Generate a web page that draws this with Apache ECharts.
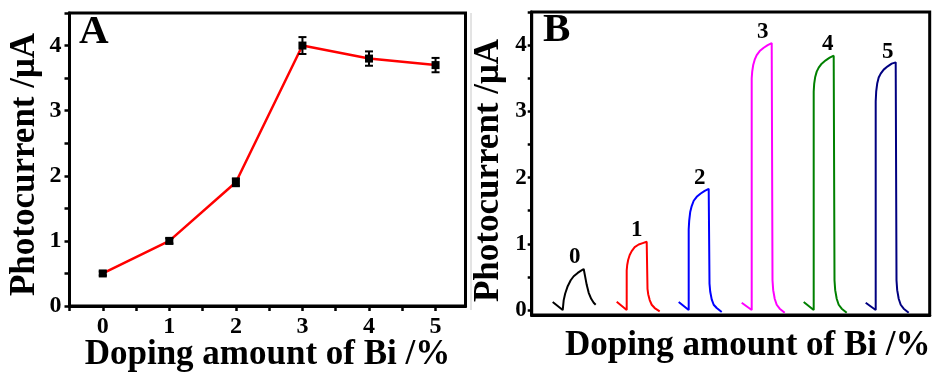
<!DOCTYPE html>
<html>
<head>
<meta charset="utf-8">
<script src="https://cdn.jsdelivr.net/npm/echarts@6/dist/echarts.min.js"></script>
<style>
html,body{margin:0;padding:0;background:#fff;}
#c{width:932px;height:374px;}
</style>
</head>
<body>
<div id="c"></div>
<script>
// ---- Panel A data ----
var dopingA = [0, 1, 2, 3, 4, 5];
var currentA = [0.5, 1.0, 1.9, 4.0, 3.8, 3.7];
var errorA = [0.03, 0.04, 0.06, 0.13, 0.11, 0.11];
var yTicksLabels = [0, 1, 2, 3, 4];
var yTicksAll = [0, 0.5, 1, 1.5, 2, 2.5, 3, 3.5, 4, 4.5];
var xTicksLabelsA = [0, 1, 2, 3, 4, 5];
var xTicksAllA = [-0.5, 0, 0.5, 1, 1.5, 2, 2.5, 3, 3.5, 4, 4.5, 5];

// ---- Panel B data (time in arbitrary units along the trace) ----
var curveNames = ['0', '1', '2', '3', '4', '5'];
var curveOffsets = [21, 85, 147, 210, 272, 334];
var relTime0 = [0, 10, 11, 12.5, 15, 18, 21, 25, 28, 30, 31, 32.5, 34, 36, 38.5, 41, 43];
var current0 = [0.12, 0, 0.15, 0.25, 0.36, 0.45, 0.51, 0.56, 0.59, 0.61, 0.62, 0.5, 0.38, 0.26, 0.17, 0.11, 0.08];
var relTimePulse = [0, 10, 10, 10.5, 11.5, 13, 15, 18, 22, 26, 30, 30.8, 31.5, 33, 35, 38, 43];
var current1 = [0.125, 0, 0.6, 0.68, 0.76, 0.83, 0.89, 0.95, 0.99, 1.01, 1.03, 0.32, 0.24, 0.15, 0.08, 0.03, -0.02];
var current2 = [0.12, 0, 1.22, 1.35, 1.48, 1.57, 1.65, 1.71, 1.76, 1.8, 1.83, 0.4, 0.28, 0.16, 0.08, 0.03, -0.03];
var current3 = [0.11, 0, 3.5, 3.6, 3.7, 3.78, 3.85, 3.91, 3.96, 4.0, 4.03, 0.45, 0.3, 0.17, 0.08, 0.02, -0.04];
var current4 = [0.12, 0, 3.3, 3.42, 3.52, 3.6, 3.66, 3.72, 3.77, 3.81, 3.84, 0.45, 0.3, 0.17, 0.08, 0.02, -0.04];
var current5 = [0.11, 0, 3.15, 3.3, 3.42, 3.51, 3.57, 3.63, 3.68, 3.72, 3.74, 0.45, 0.3, 0.17, 0.08, 0.02, -0.04];
var curveColors = ['#000000', '#ff0000', '#0000ff', '#ff00ff', '#008000', '#000080'];
var labelX = [43, 105, 168, 231, 296, 356];
var labelY = [0.8, 1.2, 1.99, 4.19, 4.02, 3.89];

var FONT = '"Liberation Serif", "Times New Roman", serif';

function pairs(times, offset, values) {
  var out = [];
  for (var i = 0; i < values.length; i++) out.push([offset + times[i], values[i]]);
  return out;
}
var curvesB = [
  pairs(relTime0, curveOffsets[0], current0),
  pairs(relTimePulse, curveOffsets[1], current1),
  pairs(relTimePulse, curveOffsets[2], current2),
  pairs(relTimePulse, curveOffsets[3], current3),
  pairs(relTimePulse, curveOffsets[4], current4),
  pairs(relTimePulse, curveOffsets[5], current5)
];

var chart = echarts.init(document.getElementById('c'), null, {renderer: 'canvas'});

var tickLabelStyle = {color: '#000', fontFamily: FONT, fontWeight: 'bold', fontSize: 24};
var titleStyle = {color: '#000', fontFamily: FONT, fontWeight: 'bold', fontSize: 35};

var seriesB = curvesB.map(function (d, i) {
  return {
    type: 'line', xAxisIndex: 1, yAxisIndex: 1, data: d,
    symbol: 'none', smooth: false,
    lineStyle: {color: curveColors[i], width: 2}
  };
});

var option = {
  animation: false,
  backgroundColor: '#fff',
  grid: [
    {left: 69.5, top: 13, width: 396, height: 293, show: true, borderColor: '#000', borderWidth: 3, containLabel: false, outerBoundsMode: 'none'},
    {left: 531.7, top: 12, width: 398, height: 303, show: true, borderColor: '#000', borderWidth: 3, containLabel: false, outerBoundsMode: 'none'}
  ],
  xAxis: [
    {
      gridIndex: 0, type: 'value', min: -0.5, max: 5.45,
      name: 'Doping amount of Bi /%', nameLocation: 'middle', nameGap: 31, nameMoveOverlap: false,
      nameTextStyle: titleStyle,
      axisLine: {show: true, onZero: false, lineStyle: {color: '#000', width: 3}},
      axisTick: {show: true, inside: false, length: 5, lineStyle: {color: '#000', width: 2.5}, customValues: xTicksAllA},
      axisLabel: Object.assign({margin: 9, customValues: xTicksLabelsA}, tickLabelStyle),
      splitLine: {show: false}
    },
    {
      gridIndex: 1, type: 'value', min: 0, max: 398,
      name: 'Doping amount of Bi /%', nameLocation: 'middle', nameGap: 13, nameMoveOverlap: false,
      nameTextStyle: Object.assign({padding: [0, 0, 0, 34]}, titleStyle),
      axisLine: {show: true, onZero: false, lineStyle: {color: '#000', width: 3}},
      axisTick: {show: false}, axisLabel: {show: false}, splitLine: {show: false}
    }
  ],
  yAxis: [
    {
      gridIndex: 0, type: 'value', min: 0, max: 4.5,
      name: 'Photocurrent /\u03bcA', nameLocation: 'middle', nameGap: 27, nameMoveOverlap: false,
      nameTextStyle: Object.assign({padding: [0, 10, 0, 0]}, titleStyle),
      axisLine: {show: true, onZero: false, lineStyle: {color: '#000', width: 3}},
      axisTick: {show: true, inside: false, length: 5, lineStyle: {color: '#000', width: 2.5}, customValues: yTicksAll},
      axisLabel: Object.assign({margin: 8, customValues: yTicksLabels}, tickLabelStyle),
      splitLine: {show: false}
    },
    {
      gridIndex: 1, type: 'value', min: -0.075, max: 4.5,
      name: 'Photocurrent /\u03bcA', nameLocation: 'middle', nameGap: 25, nameMoveOverlap: false,
      nameTextStyle: Object.assign({padding: [0, 14, 0, 0]}, titleStyle),
      axisLine: {show: true, onZero: false, lineStyle: {color: '#000', width: 3}},
      axisTick: {show: true, inside: false, length: 4, lineStyle: {color: '#000', width: 2.5}, customValues: yTicksAll},
      axisLabel: Object.assign({margin: 5, customValues: yTicksLabels}, tickLabelStyle, {fontSize: 23}),
      splitLine: {show: false}
    }
  ],
  graphic: [
    {type: 'text', left: 79, top: 12, style: {text: 'A', font: 'bold 41px ' + FONT, fill: '#000'}},
    {type: 'text', left: 543, top: 10, style: {text: 'B', font: 'bold 41px ' + FONT, fill: '#000'}},
    {type: 'line', shape: {x1: 471, y1: 13, x2: 471, y2: 310}, style: {stroke: '#c8c8c8', lineWidth: 1}}
  ],
  series: [
    {
      type: 'line', xAxisIndex: 0, yAxisIndex: 0,
      data: dopingA.map(function (x, i) { return [x, currentA[i]]; }),
      symbol: 'rect', symbolSize: 8,
      itemStyle: {color: '#000'},
      lineStyle: {color: '#ff0000', width: 2.5},
      z: 3
    },
    {
      type: 'custom', xAxisIndex: 0, yAxisIndex: 0,
      data: dopingA.map(function (x, i) { return [x, currentA[i] - errorA[i], currentA[i] + errorA[i]]; }),
      renderItem: function (params, api) {
        var lo = api.coord([api.value(0), api.value(1)]);
        var hi = api.coord([api.value(0), api.value(2)]);
        var w = 4;
        var st = {stroke: '#000', lineWidth: 2};
        return {type: 'group', children: [
          {type: 'line', shape: {x1: lo[0], y1: lo[1], x2: hi[0], y2: hi[1]}, style: st},
          {type: 'line', shape: {x1: lo[0] - w, y1: lo[1], x2: lo[0] + w, y2: lo[1]}, style: st},
          {type: 'line', shape: {x1: hi[0] - w, y1: hi[1], x2: hi[0] + w, y2: hi[1]}, style: st}
        ]};
      },
      z: 4
    }
  ].concat(seriesB).concat([
    {
      type: 'custom', xAxisIndex: 1, yAxisIndex: 1,
      data: labelX.map(function (x, i) { return [x, labelY[i]]; }),
      renderItem: function (params, api) {
        var p = api.coord([api.value(0), api.value(1)]);
        return {
          type: 'text', x: p[0], y: p[1],
          style: {text: curveNames[params.dataIndex], fill: '#000', font: 'bold 23px ' + FONT, align: 'center', verticalAlign: 'middle'}
        };
      },
      z: 5
    }
  ])
};
chart.setOption(option);
</script>
</body>
</html>
